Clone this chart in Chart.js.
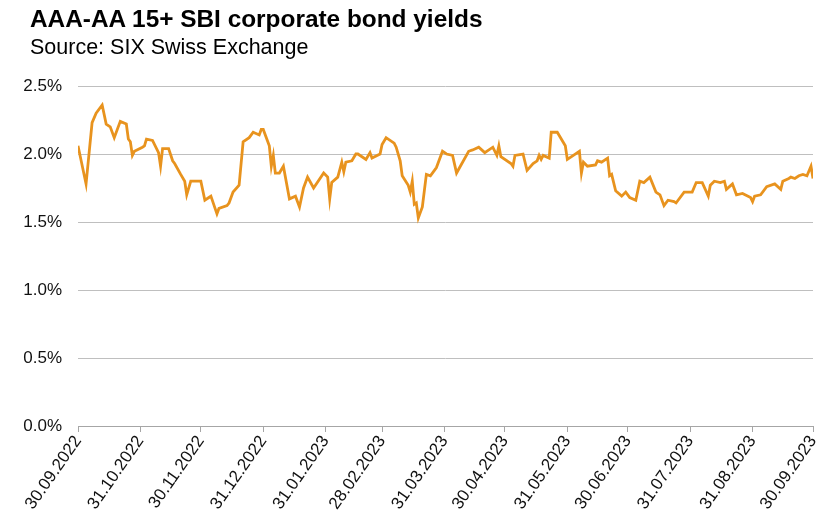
<!DOCTYPE html>
<html>
<head>
<meta charset="utf-8">
<script src="https://cdn.jsdelivr.net/npm/chart.js@4/dist/chart.umd.min.js"></script>
<style>
  body { margin: 0; background: #fff; font-family: "Liberation Sans", Arial, sans-serif; }
  #wrap { position: relative; width: 828px; height: 522px; }
  #title { position: absolute; left: 30px; top: 7px; font-size: 24.4px; font-weight: bold; line-height: 24px; color: #000; }
  #sub { position: absolute; left: 30px; top: 36px; font-size: 21.5px; line-height: 22px; color: #000; }
  canvas { position: absolute; left: 0; top: 0; }
</style>
</head>
<body>
<div id="wrap">
  <canvas id="myChart" width="828" height="522"></canvas>
  <div id="title">AAA-AA 15+ SBI corporate bond yields</div>
  <div id="sub">Source: SIX Swiss Exchange</div>
</div>
<script>
// days since 30.09.2022
const days = [0,4,7,9,12,14,16,18,21,24,25,26,27,28,32,33,34,37,40,41,42,45,47,48,51,53,54,56,58,
  61,63,65,66,69,70,74,75,77,80,82,85,87,90,91,92,95,96,97,98,100,102,105,108,110,112,114,117,
  122,124,125,126,129,131,132,133,136,138,139,143,145,146,150,151,153,157,158,160,161,164,165,166,
  167,168,169,171,173,175,177,178,181,183,186,188,194,196,199,202,206,208,209,210,215,216,217,221,
  223,226,228,229,230,231,234,235,238,242,243,246,249,250,251,253,257,258,260,263,264,265,267,270,
  272,274,277,279,281,284,287,289,291,293,296,297,301,305,307,310,313,314,316,319,321,322,325,327,
  330,334,335,336,339,342,346,349,350,353,354,356,358,360,362,364,365];
// yield in %
const yields = [2.06,1.78,2.23,2.30,2.36,2.22,2.20,2.12,2.24,2.22,2.11,2.09,1.99,2.02,2.05,2.06,2.11,2.10,2.01,1.91,2.04,2.04,1.95,1.93,1.85,1.80,1.70,1.80,1.80,
  1.80,1.66,1.68,1.69,1.56,1.60,1.62,1.64,1.72,1.77,2.09,2.12,2.16,2.14,2.18,2.18,2.06,1.91,1.99,1.86,1.86,1.91,1.67,1.69,1.61,1.75,1.83,1.75,
  1.86,1.83,1.67,1.79,1.83,1.94,1.87,1.94,1.95,2.00,2.00,1.96,2.01,1.97,2.00,2.07,2.12,2.08,2.05,1.95,1.84,1.77,1.72,1.80,
  1.63,1.64,1.53,1.61,1.85,1.84,1.88,1.90,2.02,2.00,1.99,1.86,2.02,2.03,2.05,2.01,2.05,1.99,2.06,1.98,1.93,1.91,1.99,2.00,
  1.88,1.93,1.95,1.99,1.96,1.99,1.97,2.16,2.16,2.06,1.96,1.99,2.02,1.86,1.94,1.91,1.92,1.95,1.94,1.97,1.84,1.85,1.73,1.69,
  1.72,1.68,1.66,1.80,1.79,1.83,1.72,1.70,1.62,1.66,1.65,1.64,1.72,1.72,1.79,1.79,1.69,1.77,1.80,1.79,1.80,1.74,1.78,1.70,
  1.71,1.68,1.65,1.69,1.70,1.76,1.78,1.74,1.80,1.82,1.83,1.82,1.84,1.85,1.84,1.91,1.82];

const tickDays = [0,31,61,92,123,151,182,212,243,273,304,335,365];
const tickLabels = ["30.09.2022","31.10.2022","30.11.2022","31.12.2022","31.01.2023","28.02.2023",
  "31.03.2023","30.04.2023","31.05.2023","30.06.2023","31.07.2023","31.08.2023","30.09.2023"];

const points = days.map((d, i) => ({ x: d, y: yields[i] }));

const config = {
  type: "line",
  data: {
    datasets: [{
      data: points,
      borderColor: "#E8931E",
      borderWidth: 2.8,
      pointRadius: 0,
      tension: 0,
      fill: false
    }]
  },
  options: {
    responsive: false,
    animation: false,
    layout: { padding: { top: 86, right: 15, left: 0, bottom: 0 } },
    plugins: { legend: { display: false }, tooltip: { enabled: false } },
    scales: {
      x: {
        type: "linear",
        min: 0,
        max: 365,
        afterBuildTicks: (axis) => { axis.ticks = tickDays.map(v => ({ value: v })); },
        afterFit: (axis) => { axis.height = 96; axis.paddingRight = 0; },
        grid: { drawOnChartArea: false, drawTicks: true, tickLength: 6, color: "#a6a6a6" },
        border: { display: true, color: "#a6a6a6" },
        ticks: {
          autoSkip: false,
          minRotation: 55,
          maxRotation: 55,
          padding: 0,
          color: "#111",
          font: { family: "Liberation Sans", size: 17 },
          callback: (v) => { const i = tickDays.indexOf(v); return i >= 0 ? tickLabels[i] : ""; }
        }
      },
      y: {
        min: 0,
        max: 2.5,
        afterFit: (axis) => { axis.width = 78; },
        grid: { color: "#bfbfbf", drawTicks: false },
        border: { display: false },
        ticks: {
          stepSize: 0.5,
          padding: 16,
          color: "#111",
          font: { family: "Liberation Sans", size: 17 },
          callback: (v) => v.toFixed(1) + "%"
        }
      }
    }
  }
};

const myChart = new Chart(document.getElementById("myChart"), config);
</script>
</body>
</html>
